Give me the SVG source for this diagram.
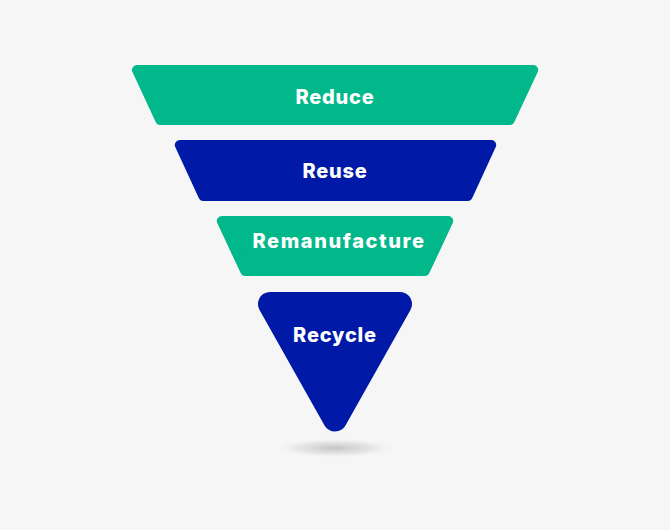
<svg xmlns="http://www.w3.org/2000/svg" width="670" height="530" viewBox="0 0 670 530">
<defs>
<style>
.g{fill:#00B88A;stroke:#00B88A;stroke-linejoin:round}
.b{fill:#0019A6;stroke:#0019A6;stroke-linejoin:round}
.t{font-family:Inter,"Open Sans",sans-serif;font-weight:800;font-size:20px;fill:#FFFFFF;text-anchor:middle;letter-spacing:0.8px}
</style>
<radialGradient id="sh" cx="0.5" cy="0.5" r="0.5">
<stop offset="0" stop-color="#BDBDBD" stop-opacity="0.9"/>
<stop offset="0.6" stop-color="#D5D5D5" stop-opacity="0.5"/>
<stop offset="1" stop-color="#F6F6F7" stop-opacity="0"/>
</radialGradient>
</defs>
<rect width="670" height="530" fill="#F6F6F7"/>
<ellipse cx="335" cy="448" rx="62" ry="10" fill="url(#sh)"/>
<g id="reduce">
<polygon class="g" stroke-width="10" points="137,70 533.2,70 509.8,120 160.2,120"/>
<text class="t" x="335" y="104">Reduce</text>
</g>
<g id="reuse">
<polygon class="b" stroke-width="10" points="179.8,145 491.2,145 467.7,196 203.3,196"/>
<text class="t" x="335" y="178">Reuse</text>
</g>
<g id="remanufacture">
<polygon class="g" stroke-width="10" points="221.8,221 448.2,221 424.8,271 245.2,271"/>
<text class="t" x="339" y="248" style="letter-spacing:1.6px">Remanufacture</text>
</g>
<g id="recycle">
<polygon class="b" stroke-width="24" points="270,304 400,304 335,419.5"/>
<text class="t" x="335" y="342">Recycle</text>
</g>
<g id="connectors"></g>
</svg>
